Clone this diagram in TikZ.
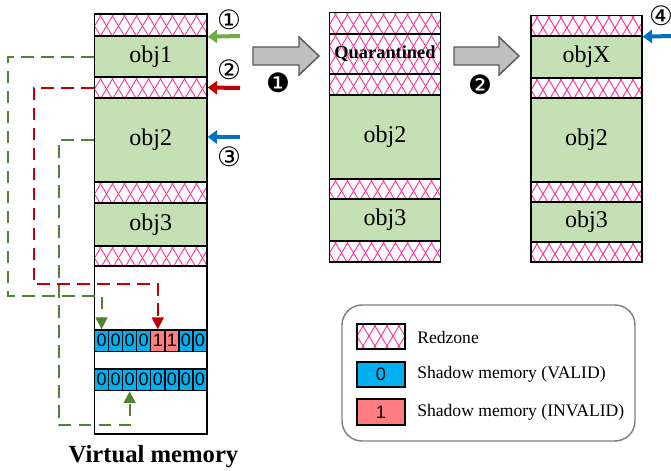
\documentclass[tikz,border=0pt]{standalone}
\usepackage{fontspec}
\setmainfont{Liberation Serif}
\newfontfamily\cellfont{Liberation Sans}
\newfontfamily\symfont{DejaVu Sans}
\usetikzlibrary{arrows.meta,calc}
\definecolor{objg}{HTML}{C5E0B4}
\definecolor{hatchc}{HTML}{FF3399}
\definecolor{cellb}{HTML}{00B0F0}
\definecolor{cellp}{HTML}{FF7C80}
\definecolor{agreen}{HTML}{70AD47}
\definecolor{dgreen}{HTML}{548235}
\definecolor{ared}{HTML}{C00000}
\definecolor{ablue}{HTML}{0070C0}
\definecolor{blkfill}{HTML}{BFBFBF}
\definecolor{blkdraw}{HTML}{595959}
\definecolor{legc}{HTML}{808080}
% box from (x1,y1) to (x2,y2) in pixel units: style, x1, y1, x2, y2, name, text
\newcommand\mybox[7]{\node[#1,minimum width={(#4-(#2))*0.75pt},minimum height={(#5-(#3))*0.75pt}] (#6) at ({((#2)+(#4))/2},{((#3)+(#5))/2}) {#7};}
\begin{document}
\begin{tikzpicture}[x=0.75pt,y=-0.75pt,
  hatchline/.style={draw=hatchc,line width=0.7pt},
  rz/.style={draw=black,line width=1.1pt,fill=white,inner sep=0pt,path picture={
    \path (path picture bounding box.north west) coordinate (pp);
    \foreach \k in {-5,...,14}{
      \draw[hatchline] ($(pp)+(\k*12,-8)$) -- ++(36,60);
      \draw[hatchline] ($(pp)+(\k*12,-8)$) -- ++(-36,60);
    }}},
  ob/.style={draw=black,line width=1.1pt,fill=objg,inner sep=0pt,font=\fontsize{18}{20}\selectfont},
  cell/.style={draw=black,line width=1.1pt,inner sep=0pt,font=\cellfont\fontsize{13.5}{14}\selectfont},
  plain/.style={draw=black,line width=1.1pt,fill=white,inner sep=0pt},
  gd/.style={draw=dgreen,line width=1.5pt,dash pattern=on 9.5pt off 5.5pt,-{Triangle[width=9pt,length=9pt]}},
  rd/.style={draw=ared,line width=1.5pt,dash pattern=on 9.5pt off 5.5pt,-{Triangle[width=9pt,length=9pt]}},
  sa/.style={line width=3pt,-{Triangle[width=10pt,length=7pt]}},
  blk/.style={draw=blkdraw,fill=blkfill,line width=1.1pt},
  circ/.style={inner sep=0pt,font=\symfont\fontsize{20}{20}\selectfont},
  dcirc/.style={inner sep=0pt,font=\symfont\fontsize{20}{20}\selectfont},
  legtxt/.style={inner sep=0pt,anchor=west,font=\fontsize{13.2}{14}\selectfont}]
\useasboundingbox (0,0) rectangle (671,471);

% ---------- left column ----------
\mybox{plain}{94.5}{14}{207}{434}{Lcol}{}
\mybox{rz}{94.5}{14}{207}{36}{Lrz1}{}
\mybox{ob}{94.5}{36}{207}{77}{Lobj1}{obj1}
\mybox{rz}{94.5}{77}{207}{98}{Lrz2}{}
\mybox{ob}{94.5}{98}{207}{182}{Lobj2}{obj2}
\mybox{rz}{94.5}{182}{207}{203}{Lrz3}{}
\mybox{ob}{94.5}{203}{207}{246}{Lobj3}{obj3}
\mybox{rz}{94.5}{246}{207}{266}{Lrz4}{}

% shadow memory cells
\foreach \i/\v/\f in {0/0/cellb,1/0/cellb,2/0/cellb,3/0/cellb,4/1/cellp,5/1/cellp,6/0/cellb,7/0/cellb}{
  \mybox{cell,fill=\f}{94.5+\i*14.0625}{330}{94.5+\i*14.0625+14.0625}{351.5}{a\i}{\v}
}
\foreach \i in {0,...,7}{
  \mybox{cell,fill=cellb}{94.5+\i*14.0625}{369}{94.5+\i*14.0625+14.0625}{390.5}{b\i}{0}
}

% dashed connectors
\draw[gd] (Lobj1.west) -- ++(-86,0) |- ($(a0.north)+(0,-33)$) -- (a0.north);
\draw[rd] (Lrz2.west) -- ++(-60,0) |- ($(a4.north)+(0,-45)$) -- (a4.north);
\draw[gd] (Lobj2.west) -- ++(-35,0) |- ($(b2.south)+(0,34)$) -- (b2.south);

% pointer arrows
\coordinate (s1) at (240,36);
\coordinate (s2) at (240,88);
\coordinate (s3) at (240,137);
\draw[sa,agreen] (s1) -- (Lrz1.south east);
\draw[sa,ared] (s2) -- (Lrz2.east);
\draw[sa,ablue] (s3) -- (Lobj2.east |- s3);
\node[circ] (n1) at (229,20) {①};
\node[circ] (n2) at (229,70) {②};
\node[circ] (n3) at (229,157) {③};

\node[font=\bfseries\fontsize{18.5}{20}\selectfont,inner sep=0pt] (vm) at (153.5,457) {Virtual memory};

% ---------- block arrows ----------
\draw[blk] (253,47) -- (299,47) -- (299,37) -- (319,56) -- (299,75) -- (299,65) -- (253,65) -- cycle;
\draw[blk] (454,47) -- (499,47) -- (499,37) -- (519,56) -- (499,75) -- (499,65) -- (454,65) -- cycle;
\node[dcirc] (d1) at (278,83) {❶};
\node[dcirc] (d2) at (480,85) {❷};

% ---------- middle column ----------
\mybox{rz}{329.5}{12.7}{440.5}{34}{Mrz1}{}
\mybox{rz,font=\bfseries\fontsize{13.8}{14}\selectfont}{329.5}{34}{440.5}{74}{Mq}{Quarantined}
\mybox{rz}{329.5}{74}{440.5}{95}{Mrz2}{}
\mybox{ob}{329.5}{95}{440.5}{179}{Mobj2}{obj2}
\mybox{rz}{329.5}{179}{440.5}{199}{Mrz3}{}
\mybox{ob}{329.5}{199}{440.5}{241}{Mobj3}{obj3}
\mybox{rz}{329.5}{241}{440.5}{262}{Mrz4}{}

% ---------- right column ----------
\mybox{rz}{531}{15.7}{642}{36}{Rrz1}{}
\mybox{ob}{531}{36}{642}{78}{RobjX}{objX}
\mybox{rz}{531}{78}{642}{98}{Rrz2}{}
\mybox{ob}{531}{98}{642}{182}{Robj2}{obj2}
\mybox{rz}{531}{182}{642}{202}{Rrz3}{}
\mybox{ob}{531}{202}{642}{242}{Robj3}{obj3}
\mybox{rz}{531}{242}{642}{262}{Rrz4}{}
\coordinate (s4) at (671,36);
\draw[sa,ablue] (s4) -- (Rrz1.south east);
\node[circ] (n4) at (661,16) {④};

% ---------- legend ----------
\mybox{draw=legc,line width=1.1pt,rounded corners=15pt,inner sep=0pt}{342}{305}{635}{441}{leg}{}
\mybox{rz}{357}{324}{405}{349}{k1}{}
\mybox{cell,fill=cellb}{357}{362}{405}{387}{k2}{0}
\mybox{cell,fill=cellp}{357}{399}{405}{425}{k3}{1}
\node[legtxt] (t1) at (417,337) {Redzone};
\node[legtxt] (t2) at (417,374) {Shadow memory (VALID)};
\node[legtxt] (t3) at (417,412) {Shadow memory (INVALID)};
\end{tikzpicture}
\end{document}
